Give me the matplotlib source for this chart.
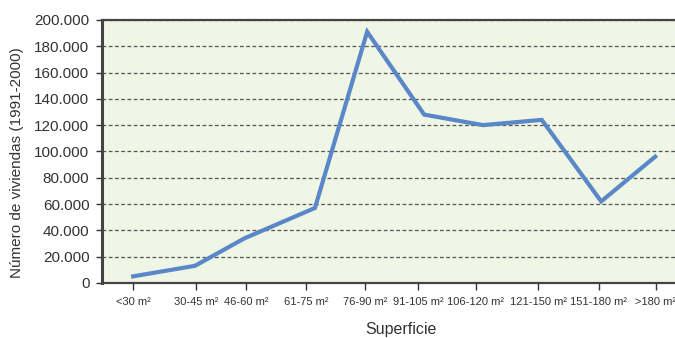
import matplotlib
matplotlib.use("Agg")
import matplotlib.pyplot as plt
from matplotlib.ticker import FuncFormatter

# Housing completions by floor area, 1991-2000
categories = ["<30 m²", "30-45 m²", "46-60 m²", "61-75 m²", "76-90 m²",
              "91-105 m²", "106-120 m²", "121-150 m²", "151-180 m²", ">180 m²"]
viviendas = [5000, 13000, 34000, 57000, 191000, 128000, 120000, 124000, 62000, 96000]

# horizontal placement of each size class along the axis
tick_pos = [0.52, 1.57, 2.40, 3.40, 4.38, 5.27, 6.23, 7.27, 8.28, 9.23]
point_pos = [0.52, 1.55, 2.38, 3.55, 4.42, 5.37, 6.35, 7.33, 8.32, 9.22]

y_ticks = list(range(0, 200001, 20000))

plt.rcParams["font.family"] = ["Liberation Sans", "DejaVu Sans"]

fig = plt.figure(figsize=(6.75, 3.38), dpi=100)
ax = fig.add_axes([0.151, 0.163, 0.849, 0.778])
ax.set_facecolor("#eff6e5")

ax.plot(point_pos, viviendas, color="#5a87c8", linewidth=3.0,
        solid_joinstyle="miter", zorder=3)

ax.set_xlim(0, 9.55)
ax.set_ylim(0, 200000)
ax.set_yticks(y_ticks)
ax.yaxis.set_major_formatter(
    FuncFormatter(lambda v, p: f"{int(v):,}".replace(",", ".")))
ax.set_xticks(tick_pos)
ax.set_xticklabels(categories, fontsize=8, color="#333333")

ax.grid(axis="y", linestyle=(0, (3, 2)), color="#555555", linewidth=0.9)
ax.set_axisbelow(True)

ax.spines["right"].set_visible(False)
ax.spines["left"].set_linewidth(2.2)
ax.spines["top"].set_linewidth(1.6)
ax.spines["bottom"].set_linewidth(1.6)
for side in ("left", "top", "bottom"):
    ax.spines[side].set_color("#444444")

ax.tick_params(axis="y", labelsize=11, colors="#333333", length=4, width=1, pad=5)
ax.tick_params(axis="x", colors="#333333", length=5, width=1, pad=5)

fig.text(0.025, 0.52, "Número de viviendas (1991-2000)", rotation=90,
         ha="center", va="center", fontsize=11, color="#333333")
fig.text(0.594, 0.025, "Superficie", ha="center", va="center",
         fontsize=11.5, color="#333333")

fig.savefig("out.png", dpi=100)
